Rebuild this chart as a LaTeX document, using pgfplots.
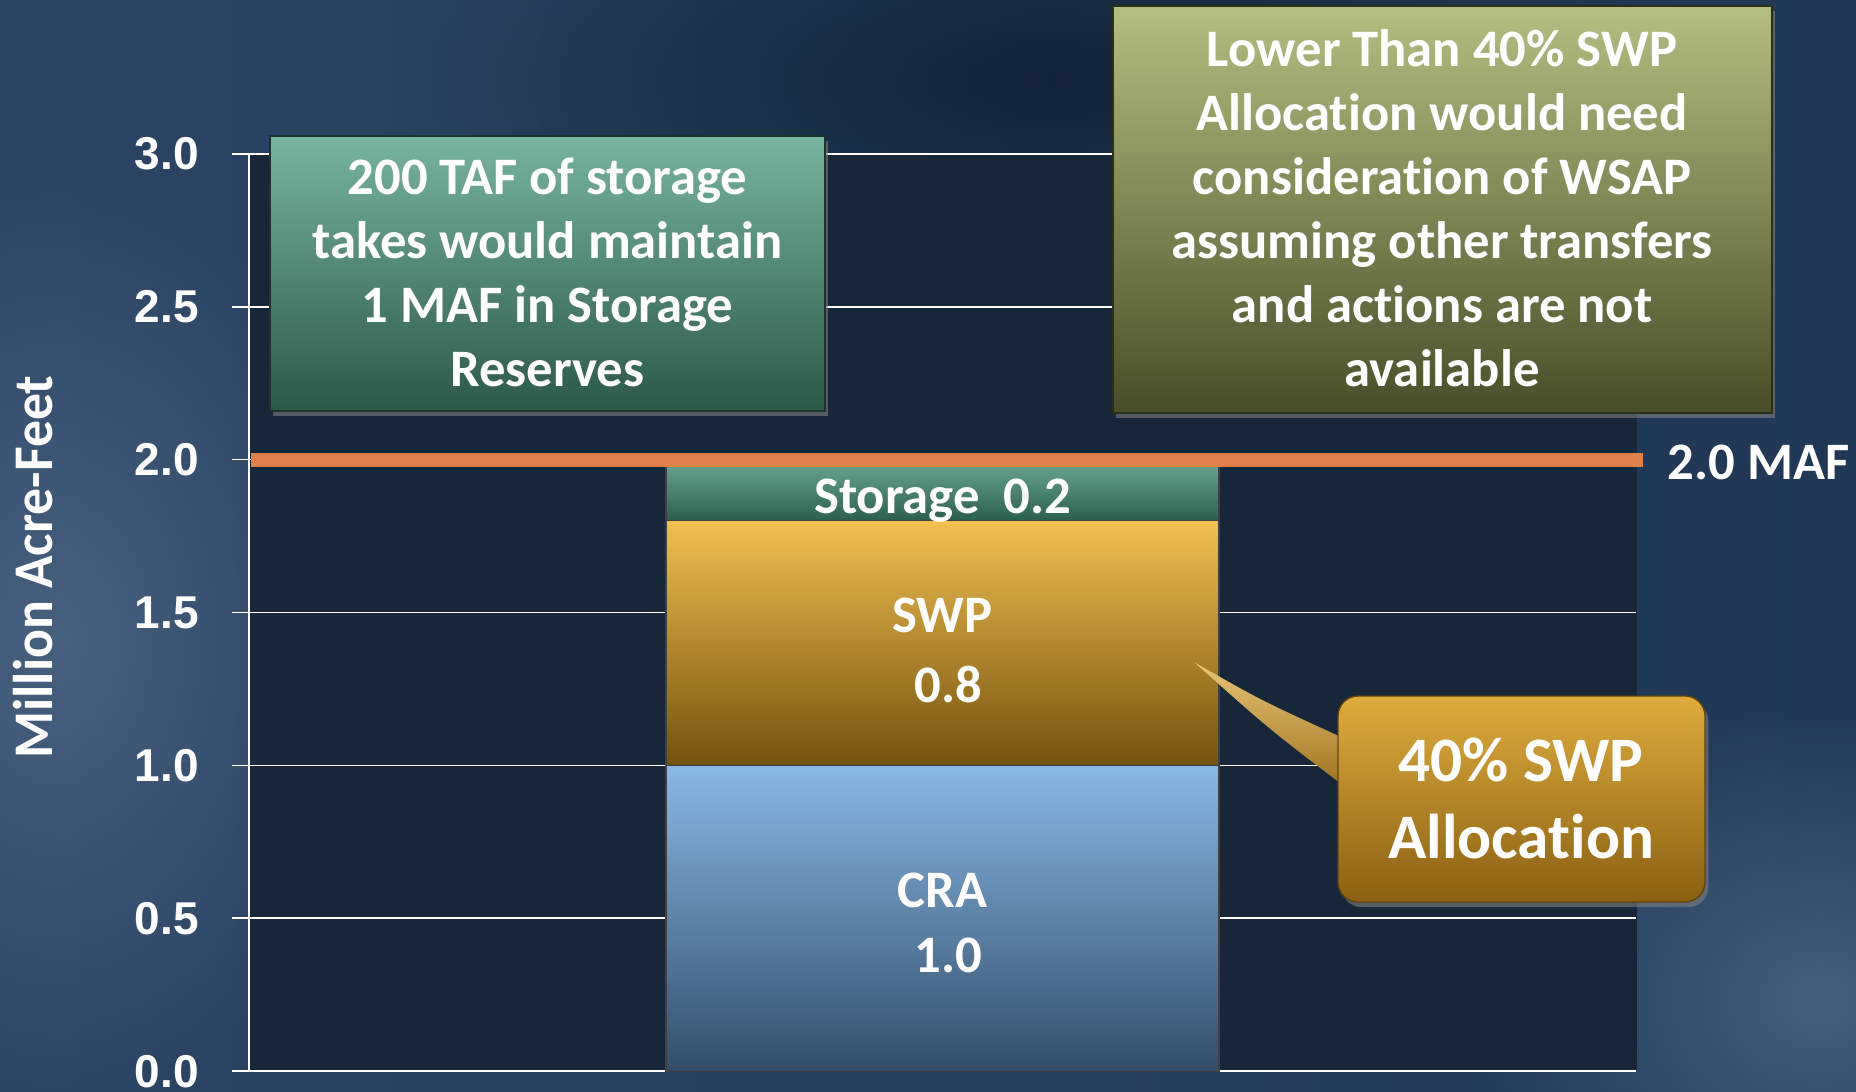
\documentclass[border=0pt]{standalone}
\usepackage{pgfplots}
\pgfplotsset{compat=1.18}
\usetikzlibrary{shadows,fadings}
\usepackage{fontspec}
\setmainfont{Carlito}[Ligatures={NoCommon,NoContextual,NoRequired}]
\newfontfamily\tickfont{Liberation Sans}
\definecolor{bgL}{RGB}{44,68,100}
\definecolor{bgM}{RGB}{28,48,76}
\definecolor{bgR}{RGB}{32,56,86}
\definecolor{bglight}{RGB}{78,104,134}
\definecolor{bgdark}{RGB}{12,24,40}
\definecolor{plotbg}{RGB}{24,38,58}
\definecolor{orangeline}{RGB}{222,128,72}
\definecolor{craT}{RGB}{138,184,228}
\definecolor{craB}{RGB}{50,78,106}
\definecolor{swpT}{RGB}{242,192,82}
\definecolor{swpB}{RGB}{116,82,14}
\definecolor{stoT}{RGB}{108,168,148}
\definecolor{stoB}{RGB}{44,94,78}
\definecolor{boxaT}{RGB}{120,180,160}
\definecolor{boxaB}{RGB}{44,88,72}
\definecolor{boxbT}{RGB}{180,190,130}
\definecolor{boxbB}{RGB}{72,78,40}
\definecolor{calT}{RGB}{222,172,62}
\definecolor{calB}{RGB}{138,96,18}
\tikzfading[name=softblob, inner color=transparent!0, outer color=transparent!100]
\newcommand{\bodyfont}{\bfseries\fontsize{15.8}{19.2}\selectfont}
\begin{document}
\begin{tikzpicture}
\useasboundingbox (0,0) rectangle (556.8pt,327.3pt);
% ---------- background (pixel units, origin top-left) ----------
\begin{scope}[x=0.3pt,y=-0.3pt,yshift=327.3pt]
\shade[left color=bgL, middle color=bgM, right color=bgR] (0,0) rectangle (1856,1091);
\fill[bglight, path fading=softblob, fill opacity=0.8] (60,640) ellipse (320 and 480);
\fill[bgdark, path fading=softblob, fill opacity=0.7] (1050,80) ellipse (650 and 260);
\fill[bglight, path fading=softblob, fill opacity=0.8] (1820,1000) ellipse (360 and 300);
\fill[plotbg] (249,154) rectangle (1637,1071);
\end{scope}
% ---------- chart ----------
\begin{axis}[
  at={(74.7pt,5.94pt)}, anchor=south west,
  scale only axis, width=416.1pt, height=275.2pt,
  xmin=0, xmax=1, ymin=0, ymax=3,
  enlargelimits=false, clip=false,
  axis x line=none, axis y line=left,
  y axis line style={white, line width=0.6pt, -},
  ytick={0,0.5,...,3.0},
  tick align=outside, major tick length=5.1pt,
  ytick style={white, line width=0.5pt},
  ymajorgrids, grid style={white, line width=0.5pt},
  yticklabel style={font=\tickfont\bfseries\fontsize{13.8}{15}\selectfont, text=white, inner sep=0pt, xshift=-9.8pt},
  /pgf/number format/.cd, fixed, fixed zerofill, precision=1, assume math mode=true,
  /pgfplots/.cd,
  bar width=165.9pt,
]
\addplot[ybar stacked, draw=black!75, line width=0.4pt, top color=craT, bottom color=craB] coordinates {(0.5,1.0)};
\addplot[ybar stacked, draw=black!75, line width=0.4pt, top color=swpT, bottom color=swpB] coordinates {(0.5,0.8)};
\addplot[ybar stacked, draw=black!75, line width=0.4pt, top color=stoT, bottom color=stoB] coordinates {(0.5,0.2)};
\addplot[sharp plot, stack plots=false, orangeline, line width=4.2pt, forget plot] coordinates {(0.0014,2.0) (1.005,2.0)};
\node[font=\bodyfont, text=white, inner sep=0pt] at (axis cs:0.5,1.866) {Storage\ \ 0.2};
\node[font=\bodyfont, text=white, inner sep=0pt] at (axis cs:0.5,1.489) {SWP};
\node[font=\bodyfont, text=white, inner sep=0pt] at (axis cs:0.504,1.266) {0.8};
\node[font=\bodyfont, text=white, inner sep=0pt] at (axis cs:0.5,0.592) {CRA};
\node[font=\bodyfont, text=white, inner sep=0pt] at (axis cs:0.504,0.380) {1.0};
\node[font=\bodyfont, text=white, inner sep=0pt, anchor=west] at (axis cs:1.0224,1.99) {2.0 MAF};
\end{axis}
% ---------- annotations (pixel units) ----------
\begin{scope}[x=0.3pt,y=-0.3pt,yshift=327.3pt]
\node[rotate=90, font=\bfseries\fontsize{16.8}{18}\selectfont, text=white, inner sep=0pt] at (33,567) {\scalebox{0.96}[1]{Million Acre-Feet}};
% box 1
\path[drop shadow={opacity=0.6, shadow xshift=1pt, shadow yshift=-1.5pt}, top color=boxaT, bottom color=boxaB, draw=boxaB!60!black, line width=0.4pt] (270,136) rectangle (825,411);
\node[font=\bodyfont, text=white, align=center, inner sep=0pt] at (547.5,272) {200 TAF of storage\\takes would maintain\\1 MAF in Storage\\Reserves};
% box 2
\path[drop shadow={opacity=0.6, shadow xshift=1pt, shadow yshift=-1.5pt}, top color=boxbT, bottom color=boxbB, draw=boxbB!60!black, line width=0.4pt] (1113,6) rectangle (1772,413);
\node[font=\bodyfont, text=white, align=center, inner sep=0pt] at (1442,208) {Lower Than 40\% SWP\\Allocation would need\\consideration of WSAP\\assuming other transfers\\and actions are not\\available};
% callout
\path[top color=calT!70!white, bottom color=calB!80!calT] (1194,662) .. controls (1260,700) .. (1352,742) -- (1352,792) .. controls (1270,730) .. cycle;
\path[drop shadow={opacity=0.6, shadow xshift=1pt, shadow yshift=-1.5pt}, top color=calT, bottom color=calB, draw=calB!70!black, line width=0.4pt, rounded corners=6pt] (1338,696) rectangle (1705,902);
\node[font=\bfseries\fontsize{19}{23.1}\selectfont, text=white, align=center, inner sep=0pt] at (1521,798) {40\% SWP\\Allocation};
\end{scope}
\end{tikzpicture}
\end{document}
